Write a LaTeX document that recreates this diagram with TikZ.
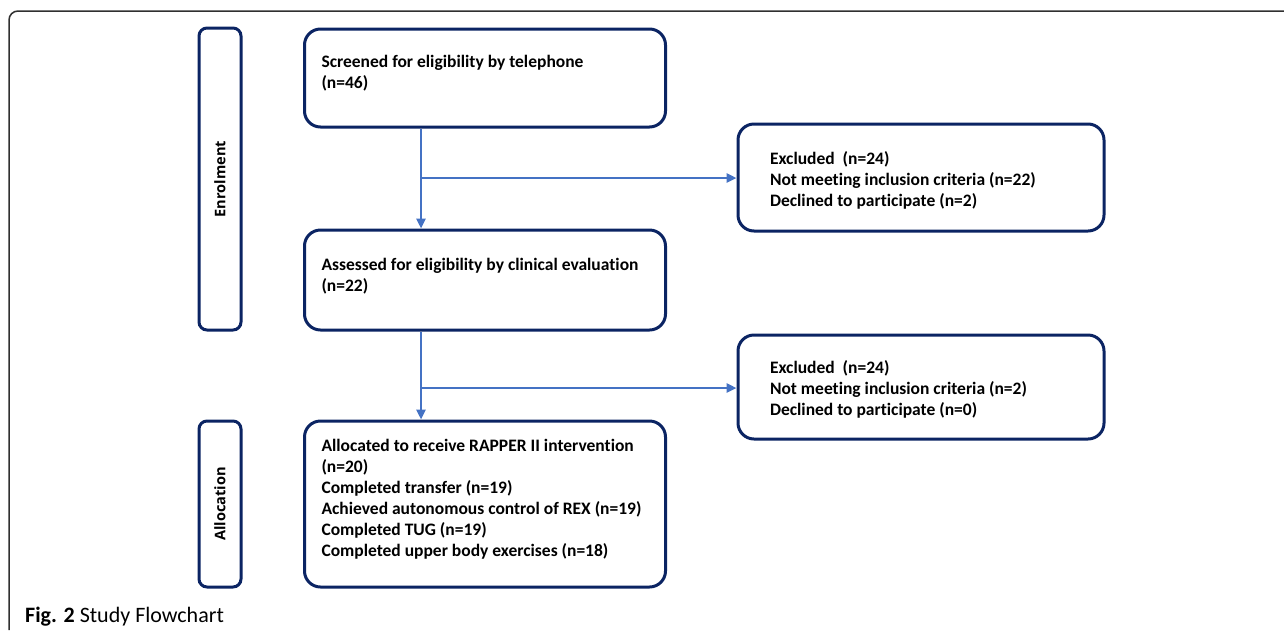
\documentclass[tikz,border=0pt]{standalone}
\usepackage{fontspec}
\setmainfont{Carlito}[RawFeature=-liga]
\newfontfamily\sidefont{Open Sans}
\newfontfamily\capfont{Carlito}
\usetikzlibrary{arrows.meta}
\definecolor{navy}{HTML}{0B2463}
\definecolor{arrowblue}{HTML}{4472C4}
\definecolor{framec}{HTML}{303030}
\newcommand\btext[5]{\parbox[c][#1][t]{#2}{\raggedright\leftskip=#3\relax\vspace*{\dimexpr#4-15pt\relax}\noindent\rule{0pt}{15pt}#5\par}}
\tikzset{
  mainbox/.style={draw=navy, line width=3pt, rounded corners=16pt, inner sep=0pt, fill=white,
    font=\fontsize{17.5}{21}\selectfont\bfseries},
  sidebox/.style={draw=navy, line width=3pt, rounded corners=8pt, inner sep=0pt, fill=white,
    rotate=90, minimum height=42pt, font=\sidefont\fontsize{14.6}{16}\selectfont\bfseries},
  arr/.style={draw=arrowblue, line width=2.8pt, -{Triangle[length=10pt,width=9pt]}},
}
\begin{document}
\begin{tikzpicture}[x=1pt,y=-1pt]
\useasboundingbox (0,0) rectangle (1284,630);
% frame
\coordinate (f1) at (9,630);
\coordinate (f2) at (9,11);
\coordinate (f3) at (1284,11);
\draw[framec, line width=1.5pt, rounded corners=9pt] (f1) -- (f2) -- (f3);
% side labels
\node[sidebox, minimum width=302pt] (enr) at (220,179) {Enrolment};
\node[sidebox, minimum width=166pt] (alc) at (220,504) {Allocation};
% main boxes
\node[mainbox] (scr) at (485,78) {\btext{98pt}{361pt}{17pt}{38pt}{Screened for eligibility by telephone\\(n=46)}};
\node[mainbox] (ass) at (485,280) {\btext{100pt}{361pt}{17pt}{40pt}{Assessed for eligibility by clinical evaluation\\(n=22)}};
\node[mainbox] (all) at (485,504) {\btext{166pt}{361pt}{17pt}{30pt}{Allocated to receive RAPPER II intervention\\(n=20)\\Completed transfer (n=19)\\Achieved autonomous control of REX (n=19)\\Completed TUG (n=19)\\Completed upper body exercises (n=18)}};
\node[mainbox] (ex1) at (921,177.5) {\btext{107pt}{366pt}{32pt}{40pt}{Excluded~~(n=24)\\Not meeting inclusion criteria (n=22)\\Declined to participate (n=2)}};
\node[mainbox] (ex2) at (921,387) {\btext{104pt}{366pt}{32pt}{38pt}{Excluded~~(n=24)\\Not meeting inclusion criteria (n=2)\\Declined to participate (n=0)}};
% connectors
\coordinate (vx) at (421,0);
\coordinate (b1) at (421,178);
\coordinate (b2) at (421,388);
\draw[arr] (scr.south -| vx) -- (ass.north -| vx);
\draw[arr] (b1) -- (ex1.west |- b1);
\draw[arr] (ass.south -| vx) -- (all.north -| vx);
\draw[arr] (b2) -- (ex2.west |- b2);
% caption
\node[anchor=base west, inner sep=0pt, font=\capfont\fontsize{22}{24}\selectfont] (cap) at (25,622) {\textbf{Fig. 2} Study Flowchart};
\end{tikzpicture}
\end{document}
